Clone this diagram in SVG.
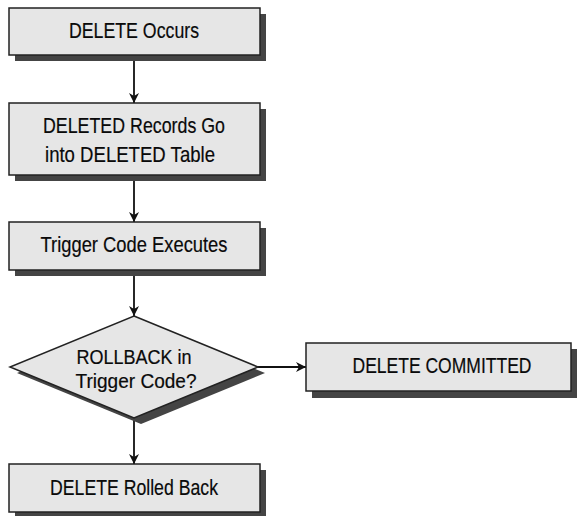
<svg xmlns="http://www.w3.org/2000/svg" width="577" height="516" viewBox="0 0 577 516">
<style>
.shadow{fill:#444444;}
.box{fill:#e6e6e6;stroke:#222222;stroke-width:1.5;}
.t{font-family:"Liberation Sans",Arial,sans-serif;font-size:22px;fill:#0a0a0a;stroke:#0a0a0a;stroke-width:0.2;text-anchor:middle;}
.s{font-size:20px;}
.c{stroke:#111111;stroke-width:1.8;fill:none;marker-end:url(#ah);}
</style>
<defs>
<marker id="ah" viewBox="0 0 10 10" refX="10" refY="5" markerWidth="10" markerHeight="10" markerUnits="userSpaceOnUse" orient="auto">
<path d="M0,0 L10,5 L0,10 L3,5 Z" fill="#111111"/>
</marker>
</defs>
<g id="connectors">
<line class="c" x1="134" y1="55" x2="134" y2="103"/>
<line class="c" x1="134" y1="175" x2="134" y2="222"/>
<line class="c" x1="134" y1="270" x2="134" y2="316"/>
<line class="c" x1="258" y1="367" x2="306" y2="367"/>
<line class="c" x1="134" y1="418" x2="134" y2="464"/>
</g>
<g id="n1">
<rect class="shadow" x="15" y="14" width="251" height="47"/>
<rect class="box" x="9" y="8" width="251" height="47"/>
<text class="t" x="134" y="38" textLength="130" lengthAdjust="spacingAndGlyphs">DELETE Occurs</text>
</g>
<g id="n2">
<rect class="shadow" x="15" y="109" width="251" height="72"/>
<rect class="box" x="9" y="103" width="251" height="72"/>
<text class="t" x="134" y="133" textLength="182" lengthAdjust="spacingAndGlyphs">DELETED Records Go</text>
<text class="t" x="130" y="162" textLength="170" lengthAdjust="spacingAndGlyphs">into DELETED Table</text>
</g>
<g id="n3">
<rect class="shadow" x="15" y="228" width="251" height="48"/>
<rect class="box" x="9" y="222" width="251" height="48"/>
<text class="t" x="134" y="252" textLength="187" lengthAdjust="spacingAndGlyphs">Trigger Code Executes</text>
</g>
<g id="n4">
<polygon class="shadow" points="141,322 265,373 141,424 17,373"/>
<polygon class="box" points="134,316 258,367 134,418 10,367"/>
<text class="t s" x="134" y="364" textLength="115" lengthAdjust="spacingAndGlyphs">ROLLBACK in</text>
<text class="t s" x="136" y="388" textLength="121" lengthAdjust="spacingAndGlyphs">Trigger Code?</text>
</g>
<g id="n5">
<rect class="shadow" x="312" y="349" width="265" height="49"/>
<rect class="box" x="306" y="343" width="265" height="48"/>
<text class="t" x="442" y="373" textLength="179" lengthAdjust="spacingAndGlyphs">DELETE COMMITTED</text>
</g>
<g id="n6">
<rect class="shadow" x="15" y="470" width="251" height="48"/>
<rect class="box" x="9" y="464" width="251" height="48"/>
<text class="t" x="134" y="495" textLength="168" lengthAdjust="spacingAndGlyphs">DELETE Rolled Back</text>
</g>
</svg>
